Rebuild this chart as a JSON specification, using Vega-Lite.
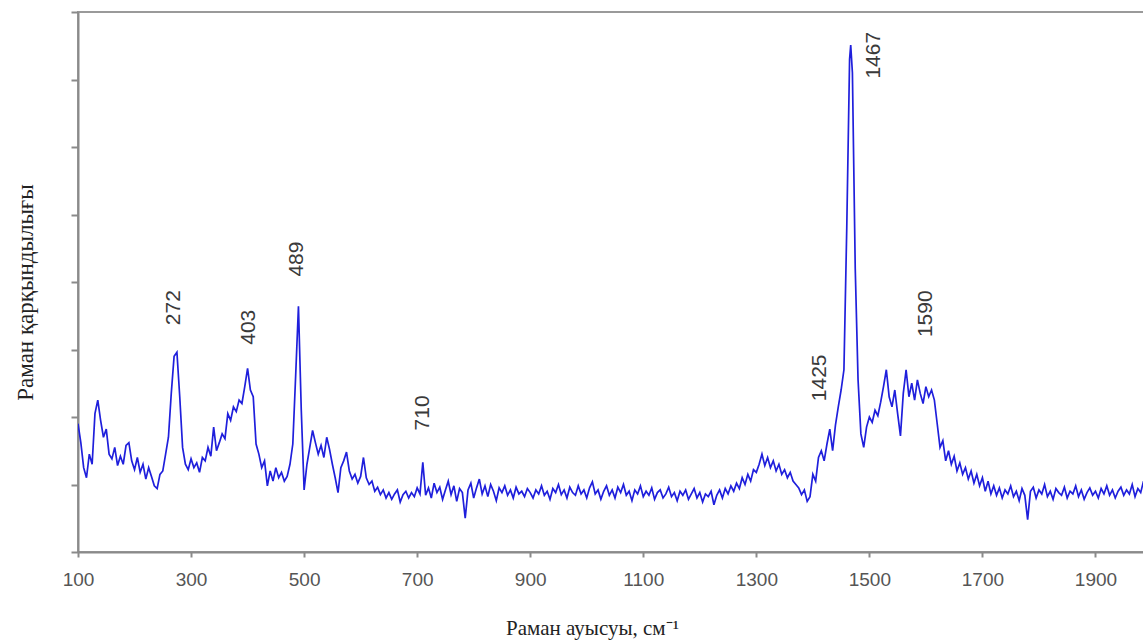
{
  "$schema": "https://vega.github.io/schema/vega-lite/v6.json",
  "width": 1074,
  "height": 540,
  "autosize": {"type": "none"},
  "padding": {"left": 78, "top": 12, "right": 0, "bottom": 91},
  "background": "white",
  "config": {"view": {"stroke": "#9a9a9a", "strokeWidth": 2}},
  "datasets": {
    "spec": [
      {"x":100,"y":1.90},{"x":105,"y":1.62},{"x":110,"y":1.25},{"x":115,"y":1.10},{"x":120,"y":1.45},{"x":125,"y":1.30},{"x":130,"y":2.05},{"x":135,"y":2.25},{"x":140,"y":1.95},{"x":145,"y":1.70},
      {"x":150,"y":1.82},{"x":155,"y":1.45},{"x":160,"y":1.38},{"x":165,"y":1.55},{"x":170,"y":1.28},{"x":175,"y":1.42},{"x":180,"y":1.30},{"x":185,"y":1.58},{"x":190,"y":1.62},{"x":195,"y":1.35},
      {"x":200,"y":1.22},{"x":205,"y":1.40},{"x":210,"y":1.18},{"x":215,"y":1.30},{"x":220,"y":1.08},{"x":225,"y":1.25},{"x":230,"y":1.12},{"x":235,"y":0.98},{"x":240,"y":0.94},{"x":245,"y":1.15},
      {"x":250,"y":1.20},{"x":255,"y":1.45},{"x":260,"y":1.70},{"x":265,"y":2.35},{"x":270,"y":2.90},{"x":275,"y":2.96},{"x":280,"y":2.30},{"x":285,"y":1.55},{"x":290,"y":1.30},{"x":295,"y":1.22},
      {"x":300,"y":1.38},{"x":305,"y":1.25},{"x":310,"y":1.32},{"x":315,"y":1.18},{"x":320,"y":1.40},{"x":325,"y":1.35},{"x":330,"y":1.55},{"x":335,"y":1.42},{"x":340,"y":1.85},{"x":345,"y":1.50},
      {"x":350,"y":1.62},{"x":355,"y":1.75},{"x":360,"y":1.68},{"x":365,"y":2.05},{"x":370,"y":1.95},{"x":375,"y":2.15},{"x":380,"y":2.08},{"x":385,"y":2.25},{"x":390,"y":2.20},{"x":395,"y":2.45},
      {"x":400,"y":2.72},{"x":405,"y":2.40},{"x":410,"y":2.30},{"x":415,"y":1.60},{"x":420,"y":1.45},{"x":425,"y":1.25},{"x":430,"y":1.35},{"x":435,"y":0.98},{"x":440,"y":1.20},{"x":445,"y":1.05},
      {"x":450,"y":1.25},{"x":455,"y":1.10},{"x":460,"y":1.18},{"x":465,"y":1.05},{"x":470,"y":1.12},{"x":475,"y":1.30},{"x":480,"y":1.60},{"x":485,"y":2.60},{"x":490,"y":3.64},{"x":495,"y":2.10},
      {"x":500,"y":0.92},{"x":505,"y":1.30},{"x":510,"y":1.55},{"x":515,"y":1.80},{"x":520,"y":1.62},{"x":525,"y":1.45},{"x":530,"y":1.58},{"x":535,"y":1.40},{"x":540,"y":1.70},{"x":545,"y":1.52},
      {"x":550,"y":1.30},{"x":555,"y":1.10},{"x":560,"y":0.88},{"x":565,"y":1.25},{"x":570,"y":1.35},{"x":575,"y":1.48},{"x":580,"y":1.20},{"x":585,"y":1.08},{"x":590,"y":1.15},{"x":595,"y":1.02},
      {"x":600,"y":1.12},{"x":605,"y":1.40},{"x":610,"y":1.10},{"x":615,"y":1.00},{"x":620,"y":1.05},{"x":625,"y":0.90},{"x":630,"y":0.96},{"x":635,"y":0.85},{"x":640,"y":0.92},{"x":645,"y":0.80},
      {"x":650,"y":0.88},{"x":655,"y":0.78},{"x":660,"y":0.86},{"x":665,"y":0.92},{"x":670,"y":0.74},{"x":675,"y":0.85},{"x":680,"y":0.90},{"x":685,"y":0.80},{"x":690,"y":0.88},{"x":695,"y":0.82},
      {"x":700,"y":0.95},{"x":705,"y":0.86},{"x":710,"y":1.33},{"x":715,"y":0.84},{"x":720,"y":0.95},{"x":725,"y":0.80},{"x":730,"y":1.02},{"x":735,"y":0.88},{"x":740,"y":0.96},{"x":745,"y":0.78},
      {"x":750,"y":0.92},{"x":755,"y":1.05},{"x":760,"y":0.85},{"x":765,"y":0.98},{"x":770,"y":0.75},{"x":775,"y":0.94},{"x":780,"y":0.88},{"x":785,"y":0.50},{"x":790,"y":0.92},{"x":795,"y":1.02},
      {"x":800,"y":0.80},{"x":805,"y":0.95},{"x":810,"y":1.08},{"x":815,"y":0.86},{"x":820,"y":0.98},{"x":825,"y":0.82},{"x":830,"y":1.00},{"x":835,"y":0.90},{"x":840,"y":0.76},{"x":845,"y":0.95},
      {"x":850,"y":0.88},{"x":855,"y":0.98},{"x":860,"y":0.84},{"x":865,"y":0.92},{"x":870,"y":0.80},{"x":875,"y":0.96},{"x":880,"y":0.86},{"x":885,"y":0.90},{"x":890,"y":0.82},{"x":895,"y":0.94},
      {"x":900,"y":0.88},{"x":905,"y":0.80},{"x":910,"y":0.92},{"x":915,"y":0.86},{"x":920,"y":0.98},{"x":925,"y":0.84},{"x":930,"y":0.90},{"x":935,"y":0.78},{"x":940,"y":0.94},{"x":945,"y":0.88},
      {"x":950,"y":1.00},{"x":955,"y":0.85},{"x":960,"y":0.92},{"x":965,"y":0.80},{"x":970,"y":0.96},{"x":975,"y":0.88},{"x":980,"y":0.84},{"x":985,"y":0.98},{"x":990,"y":0.86},{"x":995,"y":0.92},
      {"x":1000,"y":0.80},{"x":1005,"y":0.95},{"x":1010,"y":1.04},{"x":1015,"y":0.86},{"x":1020,"y":0.92},{"x":1025,"y":0.78},{"x":1030,"y":0.90},{"x":1035,"y":0.98},{"x":1040,"y":0.84},{"x":1045,"y":0.92},
      {"x":1050,"y":0.80},{"x":1055,"y":0.96},{"x":1060,"y":0.88},{"x":1065,"y":1.00},{"x":1070,"y":0.84},{"x":1075,"y":0.90},{"x":1080,"y":0.76},{"x":1085,"y":0.92},{"x":1090,"y":0.86},{"x":1095,"y":0.98},
      {"x":1100,"y":0.82},{"x":1105,"y":0.90},{"x":1110,"y":0.84},{"x":1115,"y":0.95},{"x":1120,"y":0.78},{"x":1125,"y":0.88},{"x":1130,"y":0.92},{"x":1135,"y":0.80},{"x":1140,"y":0.86},{"x":1145,"y":0.96},
      {"x":1150,"y":0.82},{"x":1155,"y":0.88},{"x":1160,"y":0.76},{"x":1165,"y":0.90},{"x":1170,"y":0.84},{"x":1175,"y":0.92},{"x":1180,"y":0.78},{"x":1185,"y":0.86},{"x":1190,"y":0.94},{"x":1195,"y":0.80},
      {"x":1200,"y":0.88},{"x":1205,"y":0.74},{"x":1210,"y":0.86},{"x":1215,"y":0.82},{"x":1220,"y":0.90},{"x":1225,"y":0.70},{"x":1230,"y":0.84},{"x":1235,"y":0.92},{"x":1240,"y":0.80},{"x":1245,"y":0.94},
      {"x":1250,"y":0.86},{"x":1255,"y":0.98},{"x":1260,"y":0.90},{"x":1265,"y":1.02},{"x":1270,"y":0.94},{"x":1275,"y":1.10},{"x":1280,"y":1.00},{"x":1285,"y":1.15},{"x":1290,"y":1.05},{"x":1295,"y":1.22},
      {"x":1300,"y":1.18},{"x":1305,"y":1.30},{"x":1310,"y":1.45},{"x":1315,"y":1.28},{"x":1320,"y":1.40},{"x":1325,"y":1.25},{"x":1330,"y":1.35},{"x":1335,"y":1.20},{"x":1340,"y":1.30},{"x":1345,"y":1.15},
      {"x":1350,"y":1.22},{"x":1355,"y":1.10},{"x":1360,"y":1.18},{"x":1365,"y":1.05},{"x":1370,"y":1.00},{"x":1375,"y":0.95},{"x":1380,"y":0.85},{"x":1385,"y":0.92},{"x":1390,"y":0.75},{"x":1395,"y":0.82},
      {"x":1400,"y":1.15},{"x":1405,"y":1.05},{"x":1410,"y":1.40},{"x":1415,"y":1.50},{"x":1420,"y":1.35},{"x":1425,"y":1.60},{"x":1430,"y":1.82},{"x":1435,"y":1.50},{"x":1440,"y":1.88},{"x":1445,"y":2.15},
      {"x":1450,"y":2.40},{"x":1455,"y":2.70},{"x":1460,"y":4.80},{"x":1465,"y":7.30},{"x":1467,"y":7.51},{"x":1470,"y":7.10},{"x":1475,"y":4.20},{"x":1480,"y":2.55},{"x":1485,"y":1.75},{"x":1490,"y":1.55},{"x":1495,"y":1.85},
      {"x":1500,"y":2.00},{"x":1505,"y":1.92},{"x":1510,"y":2.10},{"x":1515,"y":2.02},{"x":1520,"y":2.22},{"x":1525,"y":2.45},{"x":1530,"y":2.70},{"x":1535,"y":2.30},{"x":1540,"y":2.15},{"x":1545,"y":2.40},
      {"x":1550,"y":2.05},{"x":1555,"y":1.72},{"x":1560,"y":2.35},{"x":1565,"y":2.70},{"x":1570,"y":2.30},{"x":1575,"y":2.50},{"x":1580,"y":2.25},{"x":1585,"y":2.55},{"x":1590,"y":2.35},{"x":1595,"y":2.20},
      {"x":1600,"y":2.45},{"x":1605,"y":2.30},{"x":1610,"y":2.40},{"x":1615,"y":2.25},{"x":1620,"y":1.90},{"x":1625,"y":1.55},{"x":1630,"y":1.65},{"x":1635,"y":1.35},{"x":1640,"y":1.50},{"x":1645,"y":1.30},
      {"x":1650,"y":1.42},{"x":1655,"y":1.20},{"x":1660,"y":1.32},{"x":1665,"y":1.15},{"x":1670,"y":1.25},{"x":1675,"y":1.08},{"x":1680,"y":1.20},{"x":1685,"y":1.02},{"x":1690,"y":1.15},{"x":1695,"y":0.98},
      {"x":1700,"y":1.10},{"x":1705,"y":0.90},{"x":1710,"y":1.05},{"x":1715,"y":0.86},{"x":1720,"y":0.98},{"x":1725,"y":0.84},{"x":1730,"y":0.95},{"x":1735,"y":0.80},{"x":1740,"y":0.92},{"x":1745,"y":0.86},
      {"x":1750,"y":0.98},{"x":1755,"y":0.82},{"x":1760,"y":0.90},{"x":1765,"y":0.76},{"x":1770,"y":0.94},{"x":1775,"y":0.84},{"x":1780,"y":0.48},{"x":1785,"y":0.90},{"x":1790,"y":0.96},{"x":1795,"y":0.80},
      {"x":1800,"y":0.92},{"x":1805,"y":0.86},{"x":1810,"y":1.00},{"x":1815,"y":0.82},{"x":1820,"y":0.90},{"x":1825,"y":0.78},{"x":1830,"y":0.94},{"x":1835,"y":0.88},{"x":1840,"y":0.84},{"x":1845,"y":0.96},
      {"x":1850,"y":0.80},{"x":1855,"y":0.90},{"x":1860,"y":0.86},{"x":1865,"y":0.98},{"x":1870,"y":0.82},{"x":1875,"y":0.92},{"x":1880,"y":0.78},{"x":1885,"y":0.88},{"x":1890,"y":0.95},{"x":1895,"y":0.84},
      {"x":1900,"y":0.90},{"x":1905,"y":0.80},{"x":1910,"y":0.94},{"x":1915,"y":0.86},{"x":1920,"y":0.98},{"x":1925,"y":0.84},{"x":1930,"y":0.92},{"x":1935,"y":0.80},{"x":1940,"y":0.90},{"x":1945,"y":0.96},
      {"x":1950,"y":0.84},{"x":1955,"y":0.92},{"x":1960,"y":0.86},{"x":1965,"y":1.00},{"x":1970,"y":0.82},{"x":1975,"y":0.94},{"x":1980,"y":0.88},{"x":1985,"y":1.05},{"x":1990,"y":0.86},{"x":1995,"y":0.92},
      {"x":2000,"y":0.88}
    ],
    "labels": [
      {"x":270,"y":3.62,"t":"272"},
      {"x":402,"y":3.33,"t":"403"},
      {"x":487,"y":4.34,"t":"489"},
      {"x":710,"y":2.06,"t":"710"},
      {"x":1412,"y":2.58,"t":"1425"},
      {"x":1508,"y":7.36,"t":"1467"},
      {"x":1600,"y":3.53,"t":"1590"}
    ]
  },
  "layer": [
    {
      "data": {"name": "spec"},
      "mark": {"type": "line", "color": "#1f1fdc", "strokeWidth": 1.7, "clip": true},
      "encoding": {
        "x": {
          "field": "x", "type": "quantitative",
          "scale": {"domain": [100, 2000], "nice": false, "zero": false},
          "axis": {
            "values": [100, 300, 500, 700, 900, 1100, 1300, 1500, 1700, 1900],
            "format": "d",
            "grid": false,
            "labelFont": "Liberation Sans", "labelFontSize": 19, "labelColor": "#555555",
            "labelPadding": 13, "labelFlush": false,
            "tickSize": 5, "tickColor": "#8a8a8a", "tickWidth": 2,
            "domainColor": "#8a8a8a", "domainWidth": 2,
            "title": "Раман ауысуы, см⁻¹",
            "titleFont": "Liberation Serif", "titleFontSize": 21, "titleFontWeight": "normal",
            "titleColor": "#222222", "titleX": 514, "titleY": 76, "titleBaseline": "middle", "titleAnchor": "middle", "titleAlign": "center"
          }
        },
        "y": {
          "field": "y", "type": "quantitative",
          "scale": {"domain": [0, 8], "nice": false, "zero": true},
          "axis": {
            "values": [0, 1, 2, 3, 4, 5, 6, 7, 8],
            "grid": false, "labels": false,
            "tickSize": 7, "tickColor": "#8a8a8a", "tickWidth": 2,
            "domainColor": "#8a8a8a", "domainWidth": 2,
            "title": "Раман қарқындылығы",
            "titleFont": "Liberation Serif", "titleFontSize": 23, "titleFontWeight": "normal",
            "titleColor": "#222222", "titleX": -53, "titleY": 280, "titleAngle": 270, "titleBaseline": "middle", "titleAlign": "center", "titleAnchor": "middle"
          }
        }
      }
    },
    {
      "data": {"name": "labels"},
      "mark": {"type": "text", "angle": 270, "align": "center", "baseline": "middle", "font": "Liberation Sans", "fontSize": 21, "color": "#3a3a3a"},
      "encoding": {
        "x": {"field": "x", "type": "quantitative"},
        "y": {"field": "y", "type": "quantitative"},
        "text": {"field": "t", "type": "nominal"}
      }
    }
  ]
}
